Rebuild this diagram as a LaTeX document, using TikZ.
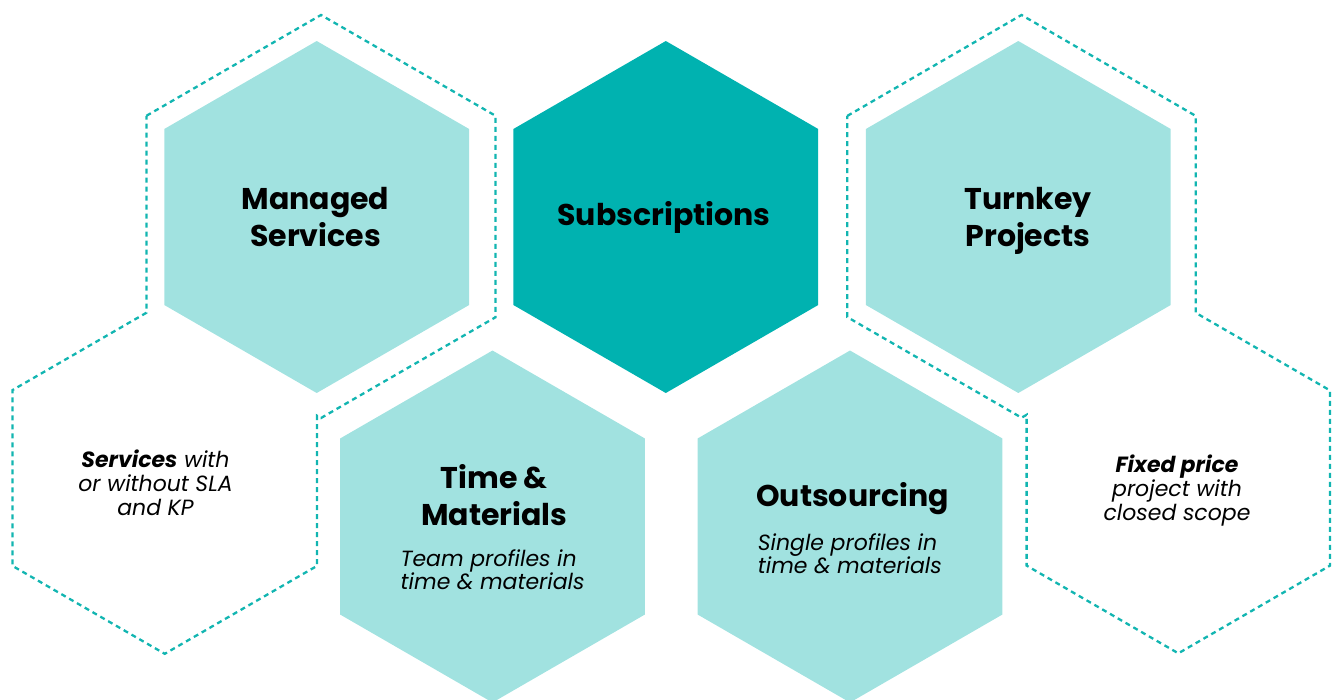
\documentclass[tikz,border=0pt]{standalone}
\usepackage{fontspec}
\setmainfont{Poppins}
\definecolor{lightteal}{HTML}{A1E2E0}
\definecolor{darkteal}{HTML}{00B2B0}
\definecolor{dashteal}{HTML}{12B5B1}
\tikzset{
  hexlight/.style={fill=lightteal},
  hexdark/.style={fill=darkteal},
  dashline/.style={draw=dashteal, line width=2.3pt, dash pattern=on 5pt off 4pt, line join=miter},
  head/.style={font=\fontsize{30}{36.7}\selectfont\bfseries, align=center, anchor=base, inner sep=0pt},
  subtxt/.style={font=\fontsize{22}{23}\selectfont\itshape, align=left, anchor=base west, inner sep=0pt},
  sidetxt/.style={font=\fontsize{22}{24}\selectfont\itshape, align=center, anchor=base, inner sep=0pt},
}
\newcommand\hexat[3]{\fill[#3] (#1) ++(0,-#2) -- ++({0.8660254*#2},{#2/2}) -- ++(0,#2) -- ++({-0.8660254*#2},{#2/2}) -- ++({-0.8660254*#2},{-#2/2}) -- ++(0,-#2) -- cycle;}
\begin{document}
\begin{tikzpicture}[x=1pt,y=-1pt]
\useasboundingbox (0,0) rectangle (1337,699);
\clip (0,0) rectangle (1337,699);

% dashed outlines
\draw[dashline] (146.5,115.75) -- (321,15) -- (495.5,115.75) -- (495.5,317.25) -- (321,418) -- (317,415.7) -- (317,565.9) -- (164.75,653.8) -- (12.5,565.9) -- (12.5,390.1) -- (146.5,312.7) -- cycle;
\draw[dashline] (847.3,115.9) -- (1021.5,15) -- (1195.7,115.9) -- (1195.7,312.8) -- (1330,390.4) -- (1330,565.6) -- (1178.3,653.3) -- (1026.6,565.6) -- (1026.6,414.8) -- (1021.5,417.7) -- (847.3,317.1) -- cycle;

% filled hexagons
\coordinate (ms) at (316.7,217);
\coordinate (su) at (665.8,217);
\coordinate (tp) at (1018.3,217);
\coordinate (tm) at (492.5,526.5);
\coordinate (os) at (850,526.5);
\hexat{ms}{176}{hexlight}
\hexat{su}{176}{hexdark}
\hexat{tp}{176}{hexlight}
\hexat{tm}{176}{hexlight}
\hexat{os}{176}{hexlight}

% texts (anchor base = baseline of last line)
\node[head] (msT) at (315.5,246) {Managed\\Services};
\node[head] (suT) at (664,225) {Subscriptions};
\node[head] (tpT) at (1028,246) {Turnkey\\Projects};
\node[head] (tmT) at (494.3,525) {Time \&\\Materials};
\node[head] (osT) at (852.5,506.7) {Outsourcing};
\node[subtxt] (tmS) at (400.5,589.3) {Team profiles in\\time \& materials};
\node[subtxt] (osS) at (757.7,573.3) {Single profiles in\\time \& materials};
\node[sidetxt] (svT) at (155.5,515.7) {\textbf{Services} with\\or without SLA\\and KP};
\node[sidetxt] (fpT) at (1177,520) {\textbf{Fixed price}\\project with\\closed scope};
\end{tikzpicture}
\end{document}
